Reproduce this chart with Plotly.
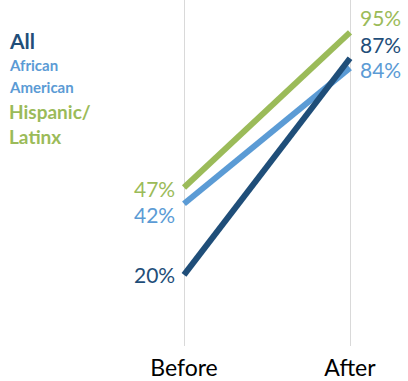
import plotly.graph_objects as go

categories = ["Before", "After"]
series_names = ["African American", "All", "Hispanic/Latinx"]
all_vals = [20, 87]
aa_vals = [42, 84]
hl_vals = [47, 95]

colors = {"All": "#1F4E79", "African American": "#5B9BD5", "Hispanic/Latinx": "#9BBB59"}
values = {"All": all_vals, "African American": aa_vals, "Hispanic/Latinx": hl_vals}
# vertical nudges (pixels) for the value labels to keep them apart
label_yshift = {"All": [0, 14], "African American": [-11, -2], "Hispanic/Latinx": [-1, 15]}

FONT = "Lato"
fig = go.Figure()
xs = [0, 1]
for name in series_names:
    v = values[name]
    fig.add_trace(go.Scatter(
        x=xs, y=v, mode="lines",
        line=dict(color=colors[name], width=6),
        showlegend=False, hoverinfo="skip",
    ))
    for i, val in enumerate(v):
        fig.add_annotation(
            x=xs[i], y=val, xref="x", yref="y", showarrow=False,
            text=f"{val}%", xanchor="right" if i == 0 else "left", yanchor="middle",
            xshift=-8 if i == 0 else 9, yshift=label_yshift[name][i],
            font=dict(family=FONT, size=21, color=colors[name]),
            borderpad=0,
        )

W, H = 408, 381
plot_h = 350
fig.update_layout(
    width=W, height=H,
    margin=dict(l=0, r=0, t=0, b=H - plot_h),
    paper_bgcolor="white", plot_bgcolor="white",
    xaxis=dict(range=[-184 / 166, (408 - 184) / 166], tickvals=xs, ticktext=categories,
               showgrid=True, gridcolor="#D9D9D9", gridwidth=1, zeroline=False,
               showline=False, ticks="", ticklabelstandoff=6,
               tickfont=dict(family=FONT, size=23, color="#000000")),
    yaxis=dict(range=[-2, 105], visible=False, showgrid=False, zeroline=False),
)

legend_items = [
    ("All", colors["All"], 21, 41),
    ("African", colors["African American"], 15, 66),
    ("American", colors["African American"], 15, 88),
    ("Hispanic/", colors["Hispanic/Latinx"], 19, 113),
    ("Latinx", colors["Hispanic/Latinx"], 19, 138),
]
for txt, col, sz, py in legend_items:
    fig.add_annotation(
        x=8 / W, y=1 - py / plot_h, xref="paper", yref="paper",
        xanchor="left", yanchor="middle", showarrow=False,
        text=f"<b>{txt}</b>", font=dict(family=FONT, size=sz, color=col),
        borderpad=0,
    )

fig.write_html("out.html")
